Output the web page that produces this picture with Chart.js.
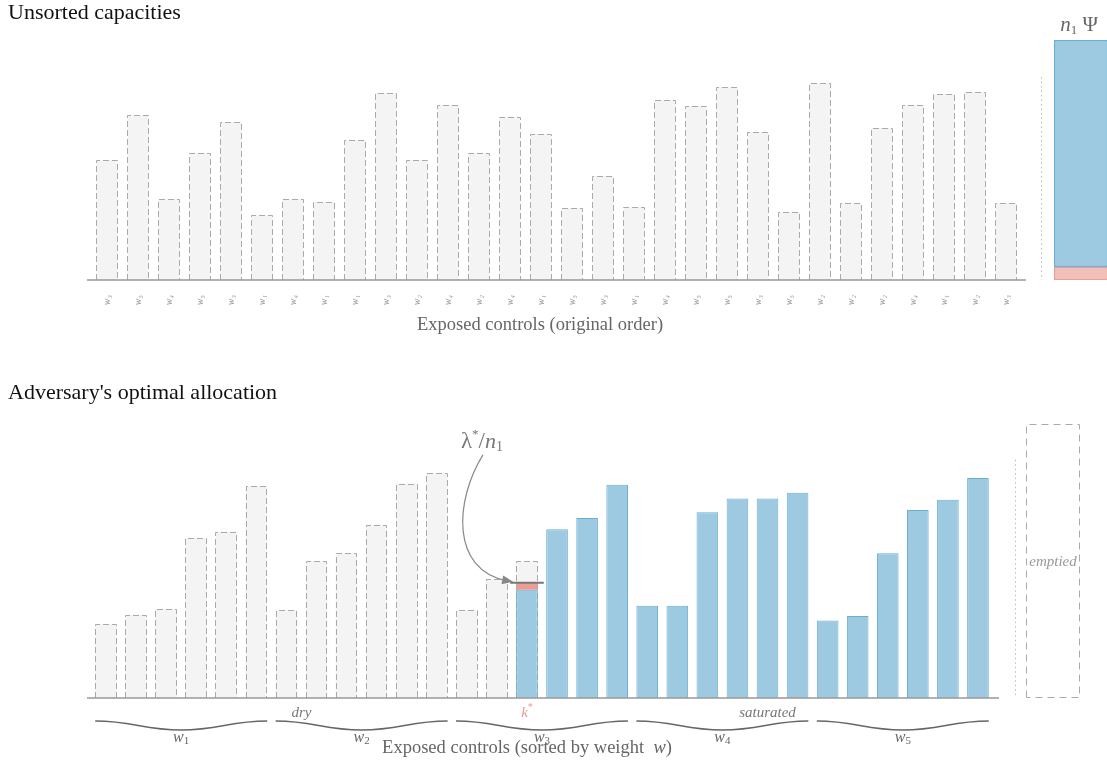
<!DOCTYPE html>
<html>
<head>
<meta charset="utf-8">
<script src="https://cdn.jsdelivr.net/npm/chart.js@4.4.1/dist/chart.umd.min.js"></script>
<style>
  body { margin:0; width:1107px; height:760px; overflow:hidden; background:#fff; position:relative; font-family:"Liberation Serif", serif; }
  .box { position:absolute; }
  .box canvas { display:block; }
  .head { position:absolute; left:8px; font-size:22px; color:#111; line-height:24px; white-space:nowrap; }
  .axis-title { position:absolute; font-size:18.5px; color:#666; line-height:20px; text-align:center; white-space:nowrap; }
</style>
</head>
<body>
<div class="box" style="left:0;top:0"><canvas id="topChart" width="1040" height="340"></canvas></div>
<div class="box" style="left:1030px;top:0"><canvas id="psiChart" width="100" height="340"></canvas></div>
<div class="box" style="left:0;top:380px"><canvas id="allocChart" width="1010" height="380"></canvas></div>
<div class="box" style="left:1000px;top:380px"><canvas id="emptyChart" width="107" height="380"></canvas></div>

<div class="head" style="top:0">Unsorted capacities</div>
<div class="head" style="top:380px">Adversary's optimal allocation</div>
<div class="axis-title" style="left:340px;width:400px;top:314px">Exposed controls (original order)</div>
<div class="axis-title" style="left:327px;width:400px;top:737px">Exposed controls (sorted by weight&nbsp; <i>w</i>)</div>

<script>
// capacities of the exposed controls, in original order, and their weight class
const weights = [3, 5, 4, 5, 3, 1, 4, 1, 1, 3, 2, 4, 2, 4, 1, 5, 3, 1, 4, 5, 5, 3, 5, 2, 2, 2, 4, 1, 2, 3];
const capacities = [120, 165, 81, 127, 158, 65, 81, 78, 140, 187, 120, 175, 127, 163, 146, 72, 104, 73, 180, 174, 193, 148, 68, 197, 77, 152, 175, 186, 188, 77];
const subDigits = ['\u2080', '\u2081', '\u2082', '\u2083', '\u2084', '\u2085'];
const tickLabels = weights.map(w => 'w' + subDigits[w]);
const weightGroups = [1, 2, 3, 4, 5];

// n1 Psi budget: spilled (red) part and allocated (blue) part
const psiParts = [13, 227];
const emptiedValue = [240];
const dottedLevels = [203, 209];   // dotted guide in top / bottom panel

// allocation in sorted order
const kStar = 14;
const kFill = 95;
const lambdaLevel = 101;
const yMax = 240;

const SERIF = '"Liberation Serif", serif';
const GRAY = '#f4f4f4';
const BLUE = '#9ecae1';
const BLUE_EDGE = '#6aaed6';

const order = weights.map((w, i) => i).sort((a, b) => weights[a] - weights[b] || capacities[a] - capacities[b]);
const sortedW = order.map(i => weights[i]);
const sortedCap = order.map(i => capacities[i]);

const capData = sortedCap.map((c, i) => i <= kStar ? c : null);
const blueData = sortedCap.map((c, i) => i < kStar ? null : (i === kStar ? kFill : c));
const redData = sortedCap.map((c, i) => i === kStar ? [kFill, lambdaLevel] : null);

const dashedOutline = {
    id: 'dashedOutline',
    afterDatasetDraw(chart, args) {
        const ds = chart.data.datasets[args.index];
        if (!ds.dashed) return;
        const ctx = chart.ctx;
        ctx.save();
        ctx.strokeStyle = '#aaa';
        ctx.lineWidth = 1;
        ctx.setLineDash(ds.dash || [6, 3]);
        args.meta.data.forEach((bar, i) => {
            if (ds.data[i] == null) return;
            const p = bar.getProps(['x', 'y', 'base', 'width'], true);
            const l = Math.round(p.x - p.width / 2) + 0.5;
            const r = Math.round(p.x + p.width / 2) - 0.5;
            const t = Math.round(p.y) + 0.5;
            const b = ds.dashed === 'all' ? Math.round(p.base) - 0.5 : p.base;
            ctx.beginPath();
            ctx.moveTo(l, b);
            ctx.lineTo(l, t);
            ctx.lineTo(r, t);
            ctx.lineTo(r, b);
            if (ds.dashed === 'all') ctx.closePath();
            ctx.stroke();
        });
        ctx.restore();
    }
};

const axisLine = (extL, extR) => ({
    id: 'axisLine',
    afterDatasetsDraw(chart) {
        const { ctx, chartArea: a } = chart;
        ctx.save();
        ctx.strokeStyle = '#999';
        ctx.lineWidth = 1.5;
        ctx.beginPath();
        ctx.moveTo(a.left - extL, a.bottom);
        ctx.lineTo(a.right + extR, a.bottom);
        ctx.stroke();
        ctx.restore();
    }
});

const dottedGuide = (level, gap) => ({
    id: 'dottedGuide',
    afterDatasetsDraw(chart) {
        const { ctx, chartArea: a, scales } = chart;
        const x = Math.round(a.left - gap) + 0.5;
        ctx.save();
        ctx.strokeStyle = '#bbb';
        ctx.lineWidth = 1;
        ctx.setLineDash([1.5, 3]);
        ctx.beginPath();
        ctx.moveTo(x, scales.y.getPixelForValue(level));
        ctx.lineTo(x, scales.y.getPixelForValue(0));
        ctx.stroke();
        ctx.restore();
    }
});

// draws a run of text pieces (for sub/superscripts), centred on cx
function drawParts(ctx, parts, cx, baseline) {
    ctx.save();
    ctx.textBaseline = 'alphabetic';
    ctx.textAlign = 'left';
    let total = 0;
    parts.forEach(p => { ctx.font = p.font; p.w = ctx.measureText(p.t).width; total += p.w; });
    let x = cx - total / 2;
    parts.forEach(p => {
        ctx.font = p.font;
        ctx.fillStyle = p.color;
        ctx.fillText(p.t, x, baseline + (p.dy || 0));
        x += p.w;
    });
    ctx.restore();
}

const allocNotes = {
    id: 'allocNotes',
    afterDatasetsDraw(chart) {
        const { ctx, chartArea: a, scales } = chart;
        const bars = chart.getDatasetMeta(chart.data.datasets.length - 1).data;
        const half = bars[0].width / 2;
        const kb = bars[kStar];
        const yl = scales.y.getPixelForValue(lambdaLevel);

        // lambda level marker on the k* control
        ctx.save();
        ctx.strokeStyle = '#777';
        ctx.lineWidth = 2;
        ctx.beginPath();
        ctx.moveTo(kb.x - half - 6, yl);
        ctx.lineTo(kb.x + half + 6, yl);
        ctx.stroke();

        // curved arrow from the label
        const p0 = { x: kb.x - 44, y: yl - 128 };
        const c1 = { x: p0.x - 28, y: p0.y + 45 };
        const c2 = { x: p0.x - 33, y: yl - 13 };
        const p3 = { x: kb.x - half - 3, y: yl - 1 };
        ctx.strokeStyle = '#888';
        ctx.fillStyle = '#888';
        ctx.lineWidth = 1.2;
        ctx.beginPath();
        ctx.moveTo(p0.x, p0.y);
        ctx.bezierCurveTo(c1.x, c1.y, c2.x, c2.y, p3.x - 6, p3.y - 1);
        ctx.stroke();
        const ang = Math.atan2(p3.y - c2.y, p3.x - c2.x);
        ctx.beginPath();
        ctx.moveTo(p3.x, p3.y);
        ctx.lineTo(p3.x - 11 * Math.cos(ang) + 4.5 * Math.sin(ang), p3.y - 11 * Math.sin(ang) - 4.5 * Math.cos(ang));
        ctx.lineTo(p3.x - 11 * Math.cos(ang) - 4.5 * Math.sin(ang), p3.y - 11 * Math.sin(ang) + 4.5 * Math.cos(ang));
        ctx.closePath();
        ctx.fill();
        ctx.restore();

        drawParts(ctx, [
            { t: '\u03bb', font: '23px ' + SERIF, color: '#777' },
            { t: '*', font: '13px ' + SERIF, color: '#777', dy: -10 },
            { t: '/', font: '23px ' + SERIF, color: '#777' },
            { t: 'n', font: 'italic 22px ' + SERIF, color: '#777' },
            { t: '1', font: '14px ' + SERIF, color: '#777', dy: 3 }
        ], kb.x - 45, yl - 135);

        // status labels
        const span = (i0, i1) => (bars[i0].x - half + bars[i1].x + half) / 2;
        const ly = a.bottom + 19;
        drawParts(ctx, [{ t: 'dry', font: 'italic 15px ' + SERIF, color: '#777' }], span(0, kStar - 1), ly);
        drawParts(ctx, [
            { t: 'k', font: 'italic 15px ' + SERIF, color: '#e39a92' },
            { t: '*', font: '10px ' + SERIF, color: '#e39a92', dy: -7 }
        ], kb.x, ly);
        drawParts(ctx, [{ t: 'saturated', font: 'italic 15px ' + SERIF, color: '#777' }], span(kStar + 1, bars.length - 1), ly);

        // braces under each weight class
        ctx.save();
        ctx.strokeStyle = '#666';
        ctx.lineWidth = 1.3;
        weightGroups.forEach(g => {
            const idx = sortedW.map((w, i) => w === g ? i : -1).filter(i => i >= 0);
            const x0 = bars[idx[0]].x - half;
            const x1 = bars[idx[idx.length - 1]].x + half;
            const xc = (x0 + x1) / 2;
            const w = x1 - x0;
            const y0 = a.bottom + 23;
            const y1 = a.bottom + 32;
            ctx.beginPath();
            ctx.moveTo(x0, y0);
            ctx.bezierCurveTo(x0 + w * 0.22, y0, xc - w * 0.22, y1, xc, y1);
            ctx.bezierCurveTo(xc + w * 0.22, y1, x1 - w * 0.22, y0, x1, y0);
            ctx.stroke();
            drawParts(ctx, [
                { t: 'w', font: 'italic 16px ' + SERIF, color: '#666' },
                { t: String(g), font: '11px ' + SERIF, color: '#666', dy: 2 }
            ], xc, a.bottom + 44);
        });
        ctx.restore();
    }
};

// top: capacities in original order
new Chart(document.getElementById('topChart'), {
    type: 'bar',
    data: {
        labels: tickLabels,
        datasets: [{
            label: 'capacity',
            data: capacities,
            backgroundColor: GRAY,
            borderWidth: 0,
            dashed: 'open',
            barPercentage: 0.68,
            categoryPercentage: 1
        }]
    },
    options: {
        responsive: false,
        animation: false,
        layout: { padding: { left: 91.5, right: 18.5, top: 40, bottom: 0 } },
        scales: {
            x: {
                grid: { display: false, drawTicks: false },
                border: { display: false },
                ticks: {
                    color: '#999',
                    font: { family: SERIF, size: 10, style: 'italic' },
                    minRotation: 90,
                    maxRotation: 90,
                    autoSkip: false,
                    padding: 15
                },
                afterFit: s => { s.height = 60; }
            },
            y: { display: false, min: 0, max: yMax }
        },
        plugins: { legend: { display: false }, tooltip: { enabled: false } }
    },
    plugins: [dashedOutline, axisLine(4.5, 4.5)]
});

// top right: n1 Psi budget
new Chart(document.getElementById('psiChart'), {
    type: 'bar',
    data: {
        labels: [''],
        datasets: [
            { data: [psiParts[0]], backgroundColor: '#f2c0b8', borderColor: '#e3a39b', borderWidth: 1.5, borderSkipped: false, barPercentage: 1, categoryPercentage: 1 },
            { data: [psiParts[1]], backgroundColor: BLUE, borderColor: BLUE_EDGE, borderWidth: 1.5, borderSkipped: false, barPercentage: 1, categoryPercentage: 1 }
        ]
    },
    options: {
        responsive: false,
        animation: false,
        layout: { padding: { left: 24, right: 22, top: 40, bottom: 60 } },
        scales: {
            x: { display: false, stacked: true },
            y: { display: false, stacked: true, min: 0, max: yMax }
        },
        plugins: { legend: { display: false }, tooltip: { enabled: false } }
    },
    plugins: [dottedGuide(dottedLevels[0], 13), {
        id: 'psiLabel',
        afterDatasetsDraw(chart) {
            const bar = chart.getDatasetMeta(1).data[0];
            drawParts(chart.ctx, [
                { t: 'n', font: 'italic 21px ' + SERIF, color: '#666' },
                { t: '1', font: '13px ' + SERIF, color: '#666', dy: 3 },
                { t: ' \u03a8', font: '21px ' + SERIF, color: '#666' }
            ], bar.x - 2, bar.y - 9);
        }
    }]
});

// bottom: optimal allocation, sorted by weight
new Chart(document.getElementById('allocChart'), {
    type: 'bar',
    data: {
        labels: sortedW.map(w => 'w' + subDigits[w]),
        datasets: [
            { label: 'spill', data: redData, backgroundColor: '#ea9d94', borderWidth: 0, grouped: false, order: 1, barPercentage: 0.72, categoryPercentage: 1 },
            { label: 'allocated', data: blueData, backgroundColor: BLUE, borderColor: BLUE_EDGE, borderWidth: 1, grouped: false, order: 2, barPercentage: 0.72, categoryPercentage: 1 },
            { label: 'capacity', data: capData, backgroundColor: GRAY, borderWidth: 0, dashed: 'open', grouped: false, order: 3, barPercentage: 0.72, categoryPercentage: 1 }
        ]
    },
    options: {
        responsive: false,
        animation: false,
        layout: { padding: { left: 91, right: 17, top: 44.4, bottom: 0 } },
        scales: {
            x: {
                grid: { display: false, drawTicks: false },
                border: { display: false },
                ticks: { display: false },
                afterFit: s => { s.height = 62; }
            },
            y: { display: false, min: 0, max: yMax }
        },
        plugins: { legend: { display: false }, tooltip: { enabled: false } }
    },
    plugins: [dashedOutline, axisLine(4, 6), allocNotes]
});

// bottom right: emptied budget
new Chart(document.getElementById('emptyChart'), {
    type: 'bar',
    data: {
        labels: [''],
        datasets: [{ data: emptiedValue, backgroundColor: 'rgba(0,0,0,0)', borderWidth: 0, dashed: 'all', dash: [7, 5], barPercentage: 1, categoryPercentage: 1 }]
    },
    options: {
        responsive: false,
        animation: false,
        layout: { padding: { left: 26, right: 27, top: 44.4, bottom: 62 } },
        scales: {
            x: { display: false },
            y: { display: false, min: 0, max: yMax }
        },
        plugins: { legend: { display: false }, tooltip: { enabled: false } }
    },
    plugins: [dashedOutline, dottedGuide(dottedLevels[1], 11), {
        id: 'emptiedLabel',
        afterDatasetsDraw(chart) {
            const bar = chart.getDatasetMeta(0).data[0];
            drawParts(chart.ctx, [{ t: 'emptied', font: 'italic 15px ' + SERIF, color: '#999' }], bar.x, (bar.y + bar.base) / 2 + 5);
        }
    }]
});
</script>
</body>
</html>
